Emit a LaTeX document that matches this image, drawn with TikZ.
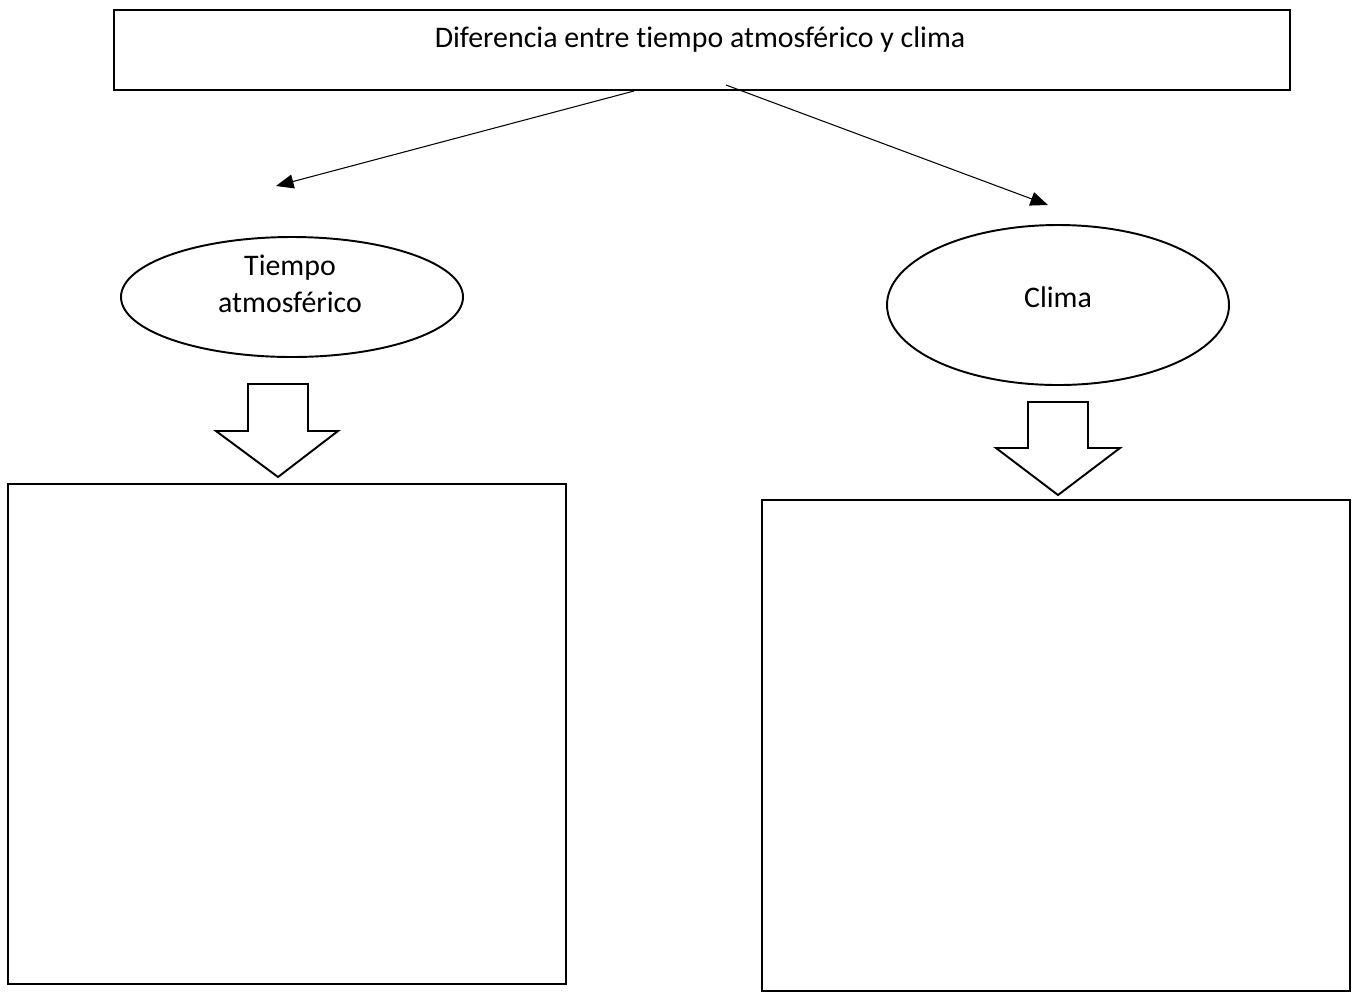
\documentclass[tikz,border=0pt]{standalone}
\usepackage{fontspec}
\setmainfont[Ligatures=NoCommon,RawFeature={-liga}]{Carlito}
\usetikzlibrary{arrows.meta,shapes.geometric}

\tikzset{
  caja/.style={draw,line width=1.1pt,inner sep=0pt},
  flecha/.style={line width=0.6pt,-{Triangle[length=10pt,width=8pt]}},
  globo/.style={draw,ellipse,line width=1.1pt,inner sep=0pt},
  rotulo/.style={align=center,font=\fontsize{17}{21}\selectfont},
  bloque/.style={draw,line width=1.1pt,fill=white,line join=miter}
}

\begin{document}
\begin{tikzpicture}[x=0.02cm,y=-0.02cm]
\useasboundingbox (0,0) rectangle (1356,992);

	% top box
	\node[caja,minimum width=1176*0.02cm,minimum height=80*0.02cm] (titulo) at (702,50) {};
	\node[rotulo] (txt) at (700,40) {Diferencia entre tiempo atmosférico y clima};

	% ellipses
	\node[globo,minimum width=342*0.02cm,minimum height=120*0.02cm] (tiempo) at (292,297) {};
	\node[rotulo] (tiempotxt) at (290,284) {Tiempo\\atmosférico};
	\node[globo,minimum width=342*0.02cm,minimum height=160*0.02cm] (clima) at (1058,305) {};
	\node[rotulo] (climatxt) at (1058,297) {Clima};

	% thin arrows
	\coordinate (a1) at (634,91);
	\coordinate (b1) at (276,186);
	\coordinate (a2) at (726,85);
	\coordinate (b2) at (1048,205);
	\draw[flecha] (a1) -- (b1);
	\draw[flecha] (a2) -- (b2);

	% block arrows
	\draw[bloque] (248,384) -- (308,384) -- (308,431) -- (338,431) -- (278,477)
		-- (216,431) -- (248,431) -- cycle;
	\draw[bloque] (1028,402) -- (1088,402) -- (1088,448) -- (1120,448) -- (1058,495)
		-- (996,448) -- (1028,448) -- cycle;

	% empty boxes
	\draw[line width=1.1pt] (8,484) rectangle (566,984);
	\draw[line width=1.1pt] (762,500) rectangle (1350,991);

\end{tikzpicture}
\end{document}
